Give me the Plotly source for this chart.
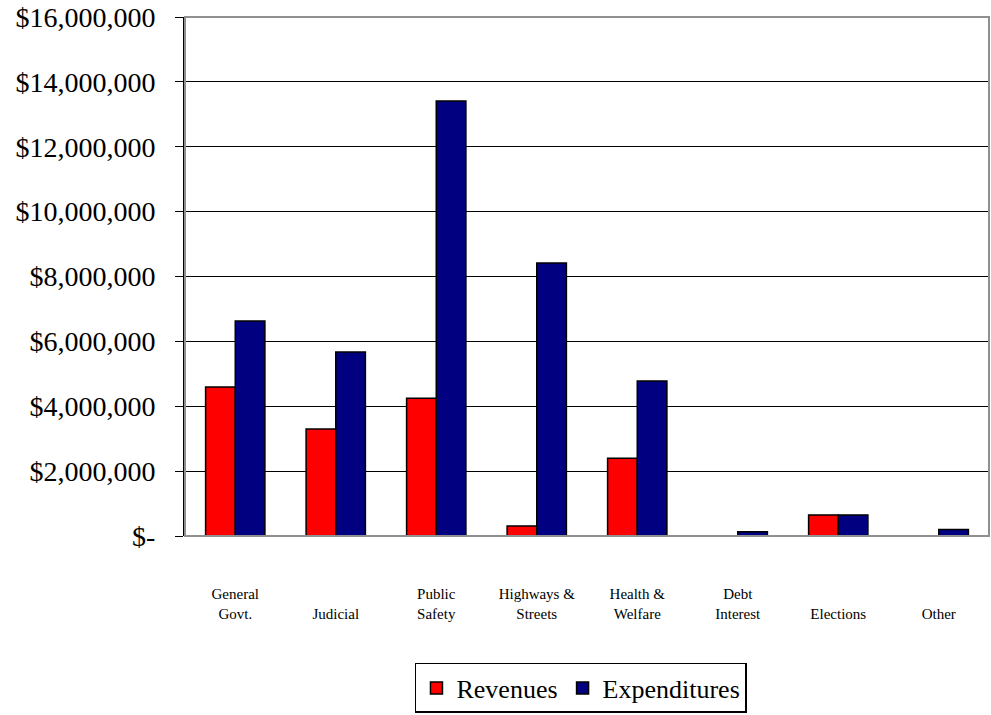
import plotly.graph_objects as go

categories = ["General<br>Govt.", "<br>Judicial", "Public<br>Safety", "Highways &<br>Streets",
              "Health &<br>Welfare", "Debt<br>Interest", "<br>Elections", "<br>Other"]
revenues = [4590000, 3300000, 4250000, 310000, 2400000, 0, 650000, 0]
expenditures = [6630000, 5670000, 13410000, 8420000, 4780000, 130000, 650000, 200000]
y_ticks = [0, 2000000, 4000000, 6000000, 8000000, 10000000, 12000000, 14000000, 16000000]
y_tick_labels = ["$-", "$2,000,000", "$4,000,000", "$6,000,000", "$8,000,000",
                 "$10,000,000", "$12,000,000", "$14,000,000", "$16,000,000"]

serif = "Liberation Serif"

fig = go.Figure()
fig.add_trace(go.Bar(name="Revenues", x=categories, y=revenues,
                     marker=dict(color="#FF0000", line=dict(color="black", width=1.5))))
fig.add_trace(go.Bar(name="Expenditures", x=categories, y=expenditures,
                     marker=dict(color="#000080", line=dict(color="black", width=1.5))))

fig.update_layout(
    width=991, height=715,
    margin=dict(l=185, r=2, t=17, b=179),
    paper_bgcolor="white", plot_bgcolor="white",
    barmode="group", bargap=0.41, bargroupgap=0,
    font=dict(family=serif, color="black"),
    legend=dict(orientation="h", x=0.4925, xanchor="center", y=-0.341, yanchor="bottom",
                bordercolor="black", borderwidth=1.5, font=dict(size=26, family=serif),
                itemwidth=30, tracegroupgap=0),
    shapes=[dict(type="rect", xref="paper", yref="paper", x0=0, x1=1, y0=0, y1=1,
                 line=dict(color="#909090", width=2), layer="above")],
)
fig.update_xaxes(tickfont=dict(size=15, family=serif), showline=False, ticks="",
                 ticklabelstandoff=47, showgrid=False)
fig.update_yaxes(range=[0, 16000000], tickvals=y_ticks, ticktext=y_tick_labels,
                 tickfont=dict(size=28, family=serif), showgrid=True, gridcolor="black",
                 gridwidth=1, showline=True, linecolor="black", linewidth=2,
                 ticks="outside", ticklen=8, tickcolor="black", zeroline=False,
                 ticklabelstandoff=14)

fig.write_html("out.html")
